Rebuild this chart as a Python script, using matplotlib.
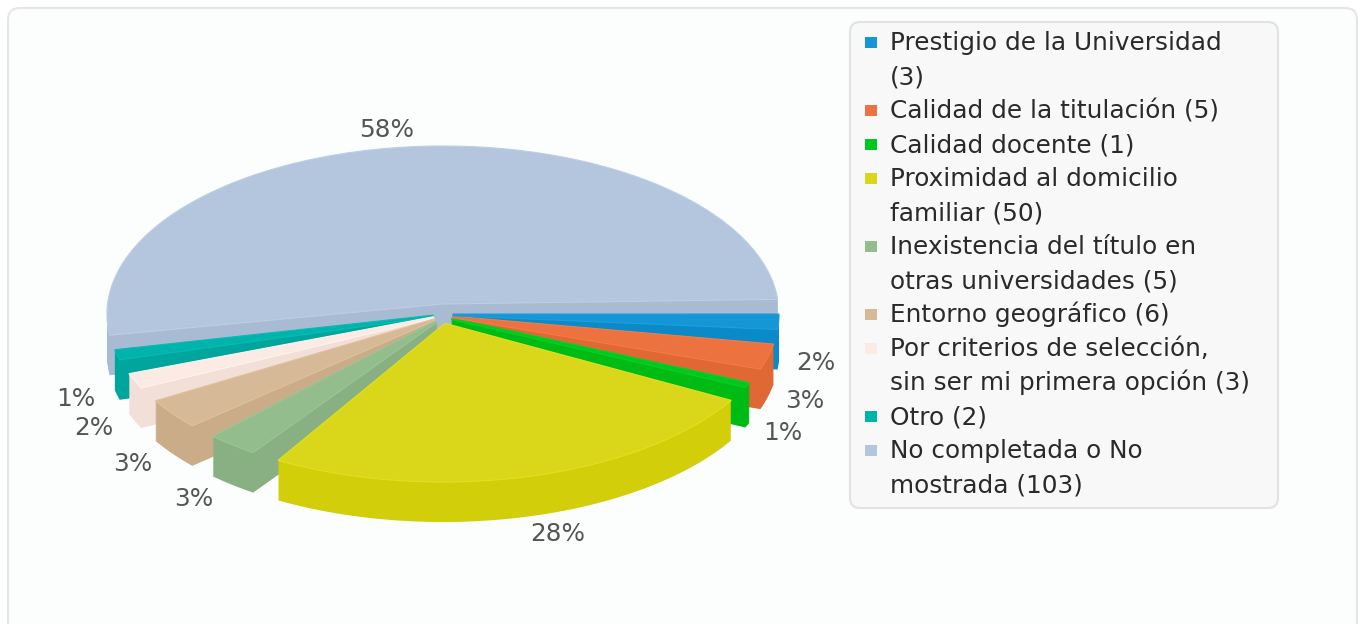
import numpy as np
import matplotlib.pyplot as plt
from matplotlib.patches import Polygon, FancyBboxPatch, Rectangle

categories = ['Prestigio de la Universidad\n(3)',
              'Calidad de la titulación (5)',
              'Calidad docente (1)',
              'Proximidad al domicilio\nfamiliar (50)',
              'Inexistencia del título en\notras universidades (5)',
              'Entorno geográfico (6)',
              'Por criterios de selección,\nsin ser mi primera opción (3)',
              'Otro (2)',
              'No completada o No\nmostrada (103)']
counts = [3, 5, 1, 50, 5, 6, 3, 2, 103]
top_colors = ['#1596d6', '#ec7340', '#00c81e', '#dad71a', '#94bd8e',
              '#d6b996', '#fbebe4', '#00b3ab', '#b4c6de']
side_colors = ['#0a8ac8', '#e06834', '#00bb14', '#d2ce0a', '#88b082',
               '#cbac88', '#f1dfd8', '#00a59d', '#a9bbd3']

# pie layout, in pixels
CX, CY = 443, 314
RX, RY = 336, 168
DEPTH = 40
GAP = 5.0     # degrees left free after each slice
SHIFT = 10    # tip of each slice pushed out by this
DEV = 5


def lighter(c, amt=10):
    c = c.lstrip('#')
    rgb = [min(255, int(c[i:i + 2], 16) + amt) / 255 for i in (0, 2, 4)]
    return tuple(rgb)


fig = plt.figure(figsize=(13.65, 6.24), dpi=100)
fig.patch.set_facecolor('white')
ax = fig.add_axes([0, 0, 1, 1])
ax.set_xlim(0, 1365)
ax.set_ylim(624, 0)
ax.axis('off')

# outer frame
ax.add_patch(FancyBboxPatch((8, 8), 1349, 660, boxstyle='round,pad=0,rounding_size=12',
                            facecolor='#fbfefc', edgecolor='#e6e6e6', lw=1.5))

total = float(sum(counts))
ratio = (360.0 - GAP * len(counts)) / total

polys = []
mids = []
angle = 0.0
for v in counts:
    span = v * ratio
    a0, a1 = angle, angle + span
    mid = a0 + (span + GAP) / 2
    t = np.radians(np.append(np.arange(a0, a1, 0.5), a1))
    arc = np.column_stack([CX + RX * np.cos(t), CY + RY * np.sin(t)])
    c1 = np.radians(mid - DEV)
    c2 = np.radians(mid + DEV)
    p1 = [CX + SHIFT * np.cos(c1), CY + SHIFT * np.sin(c1)]
    p2 = [CX + SHIFT * np.cos(c2), CY + SHIFT * np.sin(c2)]
    polys.append(np.vstack([p1, arc, p2]))
    mids.append(a0 + span / 2)
    angle = a1 + GAP

# sides: stack the slice shape layer by layer, from the bottom up
for i in range(DEPTH, 0, -1):
    for k, pts in enumerate(polys):
        ax.add_patch(Polygon(pts + [0, i], closed=True, facecolor=side_colors[k],
                             edgecolor='none', lw=0))

# tops
for k in range(len(polys) - 1, -1, -1):
    ax.add_patch(Polygon(polys[k], closed=True, facecolor=top_colors[k],
                         edgecolor=lighter(top_colors[k], 8), lw=0.8))

# percent labels
for k, v in enumerate(counts):
    a = np.radians(mids[k])
    pct = '%d%%' % round(v / total * 100)
    if np.sin(a) > 0:
        y = CY + 47 + 186 * np.sin(a)
    else:
        y = CY + 178 * np.sin(a)
    if np.cos(a) >= 0:
        x = CX - 5 + 359 * np.cos(a)
        ha = 'left'
    elif np.sin(a) > 0:
        x = CX - 14 + 344 * np.cos(a)
        ha = 'right'
    else:
        x = CX + 8 + 344 * np.cos(a)
        ha = 'right'
    ax.text(x, y, pct, ha=ha, va='baseline', fontsize=17.8, color='#555555',
            family='DejaVu Sans')

# legend
ax.add_patch(FancyBboxPatch((850, 22), 428, 486, boxstyle='round,pad=0,rounding_size=10',
                            facecolor='#f8f8f8', edgecolor='#e2e2e2', lw=1.5))
line = 0
for k, lab in enumerate(categories):
    base = 50 + 34 * line
    ax.add_patch(Rectangle((865, base - 13.3), 11.5, 11.5, facecolor=top_colors[k],
                           edgecolor='none'))
    for j, part in enumerate(lab.split('\n')):
        ax.text(890, 50 + 34 * line, part, ha='left', va='baseline', fontsize=17.8,
                color='#2a2a2a', family='DejaVu Sans')
        line += 1

fig.savefig('out.png', dpi=100, facecolor=fig.get_facecolor())
